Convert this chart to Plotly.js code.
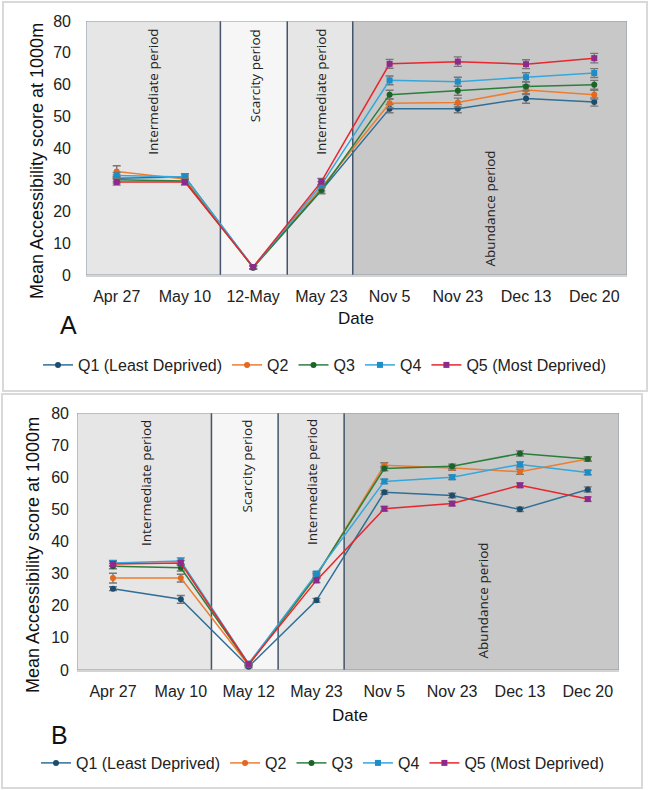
<!DOCTYPE html>
<html>
<head>
<meta charset="utf-8">
<script src="https://cdn.plot.ly/plotly-3.0.1.min.js"></script>
<style>
  html, body { margin: 0; padding: 0; background: #ffffff; }
  #chart { width: 650px; height: 790px; }
</style>
</head>
<body>
<div id="chart"></div>
<script>
// Sampling dates (panel A and panel B label the third date differently)
const datesA = ["Apr 27", "May 10", "12-May", "May 23", "Nov 5", "Nov 23", "Dec 13", "Dec 20"];
const datesB = ["Apr 27", "May 10", "May 12", "May 23", "Nov 5", "Nov 23", "Dec 13", "Dec 20"];

const seriesNames = ["Q1 (Least Deprived)", "Q2", "Q3", "Q4", "Q5 (Most Deprived)"];

// Panel A: mean accessibility score at 1000m by deprivation quintile
const a_q1 = [30.5, 30.9, 2.3, 26.6, 52.4, 52.4, 55.6, 54.5];
const a_q2 = [32.6, 30.2, 2.4, 27.5, 54.1, 54.3, 58.3, 56.8];
const a_q3 = [30.0, 29.6, 2.4, 26.8, 56.8, 58.0, 59.4, 59.9];
const a_q4 = [31.3, 30.9, 2.5, 28.4, 61.3, 60.9, 62.3, 63.6];
const a_q5 = [29.3, 29.3, 2.5, 29.4, 66.5, 67.2, 66.4, 68.3];

// Panel A: error bar half-widths
const a_q1_err = [1.0, 1.0, 0.5, 1.0, 1.3, 1.3, 1.5, 1.3];
const a_q2_err = [1.8, 1.0, 0.5, 1.0, 1.4, 1.4, 1.5, 1.4];
const a_q3_err = [1.0, 1.0, 0.5, 1.0, 1.4, 1.4, 1.4, 1.4];
const a_q4_err = [1.0, 1.0, 0.5, 1.0, 1.4, 1.4, 1.4, 1.4];
const a_q5_err = [1.0, 1.0, 0.5, 1.0, 1.4, 1.5, 1.4, 1.5];

// Panel B: mean accessibility score at 1000m by deprivation quintile
const b_q1 = [25.3, 22.0, 1.0, 21.7, 55.3, 54.3, 50.0, 56.2];
const b_q2 = [28.6, 28.6, 1.5, 29.2, 63.7, 62.9, 61.7, 65.7];
const b_q3 = [32.3, 31.8, 1.7, 29.5, 62.7, 63.4, 67.4, 65.7];
const b_q4 = [33.3, 33.9, 2.0, 30.0, 58.7, 60.0, 64.0, 61.5];
const b_q5 = [33.0, 33.3, 1.8, 27.9, 50.2, 51.8, 57.5, 53.2];

// Panel B: error bar half-widths
const b_q1_err = [0.6, 1.2, 0.3, 0.6, 0.6, 0.7, 0.7, 0.8];
const b_q2_err = [1.5, 1.2, 0.3, 0.7, 0.8, 0.7, 0.8, 0.7];
const b_q3_err = [0.8, 1.0, 0.3, 0.7, 0.7, 0.7, 0.8, 0.7];
const b_q4_err = [0.8, 1.0, 0.3, 0.7, 0.7, 0.7, 0.8, 0.7];
const b_q5_err = [0.7, 0.8, 0.3, 0.7, 0.7, 0.7, 0.7, 0.7];

const periodLabels = ["Intermediate period", "Scarcity period", "Intermediate period", "Abundance period"];

// Styling per quintile
const lineColors = ["#2f6f96", "#ed7d31", "#2a7f3b", "#35a7dc", "#e8262e"];
const markerColors = ["#1d4d6c", "#e2691d", "#1b6428", "#1b8dc8", "#8e2a8e"];
const markerSymbols = ["circle", "circle", "circle", "square", "square"];

const W = 650, H = 790;
const px = v => v / W;
const py = v => 1 - v / H;

const FONT = "Liberation Sans, Arial, sans-serif";
const LABEL_FONT = "Open Sans, Noto Sans, sans-serif";

function makeTraces(dates, ys, errs, xa, ya, legendId) {
  return ys.map((y, i) => ({
    type: "scatter",
    mode: "lines+markers",
    x: dates,
    y: y,
    name: seriesNames[i],
    xaxis: xa,
    yaxis: ya,
    legend: legendId,
    line: { color: lineColors[i], width: 1.5 },
    marker: { color: markerColors[i], size: 6, symbol: markerSymbols[i] },
    error_y: { type: "data", array: errs[i], visible: true, color: "#777777", thickness: 1.4, width: 4 },
    cliponaxis: false
  }));
}

const tracesA = makeTraces(datesA, [a_q1, a_q2, a_q3, a_q4, a_q5],
  [a_q1_err, a_q2_err, a_q3_err, a_q4_err, a_q5_err], "x", "y", "legend");
const tracesB = makeTraces(datesB, [b_q1, b_q2, b_q3, b_q4, b_q5],
  [b_q1_err, b_q2_err, b_q3_err, b_q4_err, b_q5_err], "x2", "y2", "legend2");

// Period shading: [start, end] in category units with its fill
function periodShapes(xref, yref, b1, b2, b3, xmin, xmax) {
  const bands = [
    [xmin, b1, "#e6e6e6"],
    [b1, b2, "#f6f6f6"],
    [b2, b3, "#e6e6e6"],
    [b3, xmax, "#c8c8c8"]
  ];
  const s = bands.map(b => ({
    type: "rect", xref: xref, yref: yref, x0: b[0], x1: b[1], y0: 0, y1: 80,
    fillcolor: b[2], line: { width: 0 }, layer: "below"
  }));
  [b1, b2, b3].forEach(b => s.push({
    type: "line", xref: xref, yref: yref, x0: b, x1: b, y0: 0, y1: 80,
    line: { color: "#44546a", width: 1.5 }, layer: "below"
  }));
  s.push({
    type: "rect", xref: xref, yref: yref, x0: xmin, x1: xmax, y0: 0, y1: 80,
    fillcolor: "rgba(0,0,0,0)", line: { color: "#8a98a5", width: 1 }, layer: "below"
  });
  return s;
}

const rangeA = [-0.45, 7.48];
const rangeB = [-0.53, 7.46];

const shapes = [
  // panel frames
  { type: "rect", xref: "paper", yref: "paper", x0: px(3), x1: px(647), y0: py(391), y1: py(2),
    line: { color: "#d9d9d9", width: 2 }, fillcolor: "rgba(0,0,0,0)", layer: "below" },
  { type: "rect", xref: "paper", yref: "paper", x0: px(2), x1: px(642), y0: py(788), y1: py(394),
    line: { color: "#d9d9d9", width: 2 }, fillcolor: "rgba(0,0,0,0)", layer: "below" }
].concat(periodShapes("x", "y", 1.52, 2.5, 3.46, rangeA[0], rangeA[1]))
 .concat(periodShapes("x2", "y2", 1.452, 2.435, 3.408, rangeB[0], rangeB[1]));

function periodAnnotations(xref, yref, xs, topY, bottomY) {
  return xs.map((x, i) => ({
    xref: xref, yref: yref, x: x,
    y: i === 3 ? bottomY : topY,
    yanchor: i === 3 ? "bottom" : "top",
    xanchor: "center",
    text: periodLabels[i], textangle: -90, showarrow: false,
    font: { family: LABEL_FONT, size: 13.5, color: "#222222" }
  }));
}

const annotations = []
  .concat(periodAnnotations("x", "y", [0.532, 2.027, 2.995, 5.47], 78.2, 2.0))
  .concat(periodAnnotations("x2", "y2", [0.479, 1.97, 2.927, 5.458], 78.6, 3.0))
  .concat([
    { xref: "paper", yref: "paper", x: px(37), y: py(161), xanchor: "center", yanchor: "middle",
      text: "Mean Accessibility score at 1000m", textangle: -90, showarrow: false,
      font: { family: FONT, size: 18, color: "#111111" } },
    { xref: "paper", yref: "paper", x: px(33), y: py(555), xanchor: "center", yanchor: "middle",
      text: "Mean Accessibility score at 1000m", textangle: -90, showarrow: false,
      font: { family: FONT, size: 18, color: "#111111" } },
    { xref: "paper", yref: "paper", x: px(356), y: py(319), xanchor: "center", yanchor: "middle",
      text: "Date", showarrow: false, font: { family: FONT, size: 17, color: "#111111" } },
    { xref: "paper", yref: "paper", x: px(350), y: py(715), xanchor: "center", yanchor: "middle",
      text: "Date", showarrow: false, font: { family: FONT, size: 17, color: "#111111" } },
    { xref: "paper", yref: "paper", x: px(68), y: py(325), xanchor: "center", yanchor: "middle",
      text: "A", showarrow: false, font: { family: FONT, size: 25, color: "#111111" } },
    { xref: "paper", yref: "paper", x: px(59), y: py(735), xanchor: "center", yanchor: "middle",
      text: "B", showarrow: false, font: { family: FONT, size: 25, color: "#111111" } }
  ]);

const xBase = {
  type: "category", showgrid: false, zeroline: false,
  showline: true, linecolor: "#d3d3d3", linewidth: 2,
  ticks: "", ticklabelstandoff: 6,
  tickfont: { family: FONT, size: 16, color: "#222222" },
  fixedrange: true
};
const yBase = {
  range: [0, 80], dtick: 10, showgrid: false, zeroline: false, showline: false,
  ticks: "", tickfont: { family: FONT, size: 16, color: "#222222" }, fixedrange: true
};

const legendBase = {
  orientation: "h", xanchor: "left", yanchor: "middle",
  font: { family: FONT, size: 16, color: "#222222" },
  bgcolor: "rgba(0,0,0,0)", borderwidth: 0
};

const layout = {
  width: W, height: H,
  margin: { l: 0, r: 0, t: 0, b: 0 },
  paper_bgcolor: "#ffffff", plot_bgcolor: "rgba(0,0,0,0)",
  showlegend: true,
  xaxis: Object.assign({}, xBase, { domain: [px(86), px(627)], range: rangeA, anchor: "y",
    categoryorder: "array", categoryarray: datesA }),
  yaxis: Object.assign({}, yBase, { domain: [py(275), py(21)], anchor: "x", ticklabelstandoff: 14 }),
  xaxis2: Object.assign({}, xBase, { domain: [px(77), px(619)], range: rangeB, anchor: "y2",
    categoryorder: "array", categoryarray: datesB }),
  yaxis2: Object.assign({}, yBase, { domain: [py(670), py(413)], anchor: "x2", ticklabelstandoff: 7 }),
  legend: Object.assign({}, legendBase, { x: px(38), y: py(365) }),
  legend2: Object.assign({}, legendBase, { x: px(36), y: py(763) }),
  shapes: shapes,
  annotations: annotations
};

Plotly.newPlot("chart", tracesA.concat(tracesB), layout, { displayModeBar: false, staticPlot: true });
</script>
</body>
</html>
